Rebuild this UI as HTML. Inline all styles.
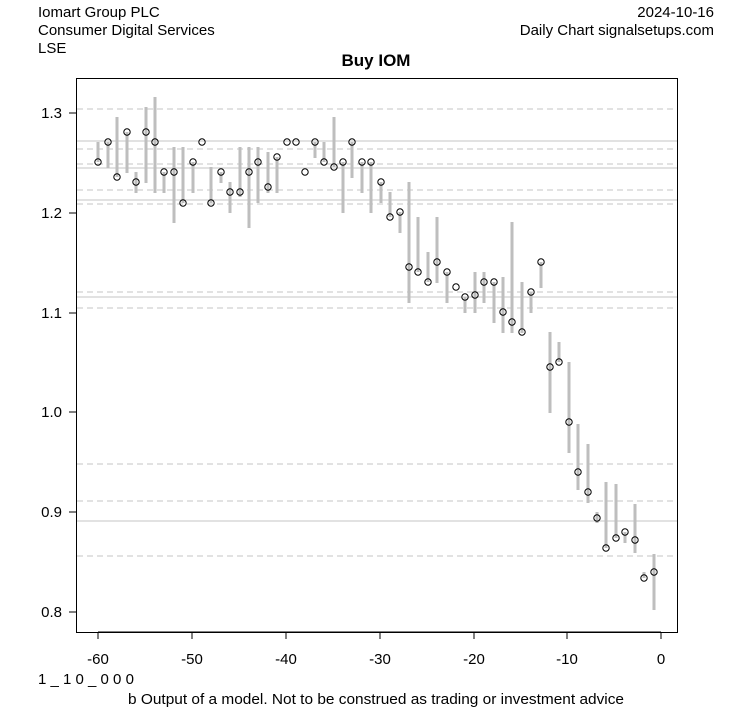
<!DOCTYPE html>
<html><head><style>body{margin:0;background:#fff}svg{display:block}text{font-family:"Liberation Sans",Arial,sans-serif}</style></head>
<body>
<svg width="753" height="708" xmlns="http://www.w3.org/2000/svg">
<rect width="753" height="708" fill="#fff"/>
<text x="38" y="17" font-size="15">Iomart Group PLC</text>
<text x="38" y="35" font-size="15">Consumer Digital Services</text>
<text x="38" y="53" font-size="15">LSE</text>
<text x="714" y="17" font-size="15" text-anchor="end">2024-10-16</text>
<text x="714" y="35" font-size="15" text-anchor="end">Daily Chart signalsetups.com</text>
<text x="376" y="66" font-size="17" font-weight="bold" text-anchor="middle">Buy IOM</text>
<g stroke="#c4c4c4" stroke-width="1" stroke-dasharray="6,4">
<line x1="77" x2="677" y1="109" y2="109"/><line x1="77" x2="677" y1="149" y2="149"/><line x1="77" x2="677" y1="164" y2="164"/><line x1="77" x2="677" y1="190" y2="190"/><line x1="77" x2="677" y1="204" y2="204"/><line x1="77" x2="677" y1="292" y2="292"/><line x1="77" x2="677" y1="308" y2="308"/><line x1="77" x2="677" y1="464" y2="464"/><line x1="77" x2="677" y1="501" y2="501"/><line x1="77" x2="677" y1="556" y2="556"/>
</g>
<g stroke="#c4c4c4" stroke-width="1">
<line x1="77" x2="677" y1="141" y2="141"/><line x1="77" x2="677" y1="168" y2="168"/><line x1="77" x2="677" y1="200" y2="200"/><line x1="77" x2="677" y1="297" y2="297"/><line x1="77" x2="677" y1="521" y2="521"/>
</g>
<g id="bars" stroke="#bebebe" stroke-width="3"></g>
<g id="pts" fill="none" stroke="#000" stroke-width="1"></g>
<rect x="76.5" y="78.5" width="601" height="554" fill="none" stroke="#000"/>
<g stroke="#000">
<line x1="98" x2="661" y1="632" y2="632"/>
<line x1="98" x2="98" y1="632" y2="639"/><line x1="192" x2="192" y1="632" y2="639"/><line x1="286" x2="286" y1="632" y2="639"/><line x1="380" x2="380" y1="632" y2="639"/><line x1="474" x2="474" y1="632" y2="639"/><line x1="567" x2="567" y1="632" y2="639"/><line x1="661" x2="661" y1="632" y2="639"/>
<line x1="76" x2="69" y1="113" y2="113"/><line x1="76" x2="69" y1="213" y2="213"/><line x1="76" x2="69" y1="313" y2="313"/><line x1="76" x2="69" y1="412" y2="412"/><line x1="76" x2="69" y1="512" y2="512"/><line x1="76" x2="69" y1="612" y2="612"/>
</g>
<g font-size="15" text-anchor="middle">
<text x="98" y="664">-60</text><text x="192" y="664">-50</text><text x="286" y="664">-40</text><text x="380" y="664">-30</text><text x="474" y="664">-20</text><text x="567" y="664">-10</text><text x="661" y="664">0</text>
</g>
<g font-size="15" text-anchor="end">
<text x="62" y="118">1.3</text><text x="62" y="218">1.2</text><text x="62" y="318">1.1</text><text x="62" y="417">1.0</text><text x="62" y="517">0.9</text><text x="62" y="617">0.8</text>
</g>
<text x="38" y="684" font-size="15">1 _ 1 0 _ 0 0 0</text>
<text x="128" y="704" font-size="15" textLength="496" lengthAdjust="spacingAndGlyphs">b Output of a model. Not to be construed as trading or investment advice</text>
<script>
var d=[[98,142,162,162],[108,142,168,142],[117,117,177,177],[127,132,173,132],[136,172,193,182],[146,107,183,132],[155,97,193,142],[164,172,193,172],[174,147,223,172],[183,147,203,203],[193,162,193,162],[202,0,0,142],[211,167,203,203],[221,172,183,172],[230,182,213,192],[240,147,197,192],[249,147,228,172],[258,147,203,162],[268,152,193,187],[277,157,193,157],[287,0,0,142],[296,0,0,142],[305,0,0,172],[315,142,158,142],[324,142,162,162],[334,117,167,167],[343,162,213,162],[352,142,178,142],[362,162,193,162],[371,162,213,162],[381,182,203,182],[390,192,217,217],[400,212,233,212],[409,182,303,267],[418,217,272,272],[428,252,282,282],[437,217,283,262],[447,272,303,272],[456,0,0,287],[465,297,313,297],[475,272,313,295],[484,272,303,282],[494,282,323,282],[503,277,333,312],[512,222,333,322],[522,282,333,332],[531,292,313,292],[541,262,288,262],[550,332,413,367],[559,342,362,362],[569,362,453,422],[578,424,490,472],[588,444,503,492],[597,512,523,518],[606,482,548,548],[616,484,538,538],[625,532,543,532],[635,504,553,540],[644,572,578,578],[654,554,610,572]];
var ns="http://www.w3.org/2000/svg",b=document.getElementById('bars'),p=document.getElementById('pts');
d.forEach(function(r){if(r[1]){var l=document.createElementNS(ns,'line');l.setAttribute('x1',r[0]);l.setAttribute('x2',r[0]);l.setAttribute('y1',r[1]);l.setAttribute('y2',r[2]);b.appendChild(l);}
var c=document.createElementNS(ns,'circle');c.setAttribute('cx',r[0]);c.setAttribute('cy',r[3]);c.setAttribute('r',3.2);p.appendChild(c);});
</script>
</svg>
</body></html>
